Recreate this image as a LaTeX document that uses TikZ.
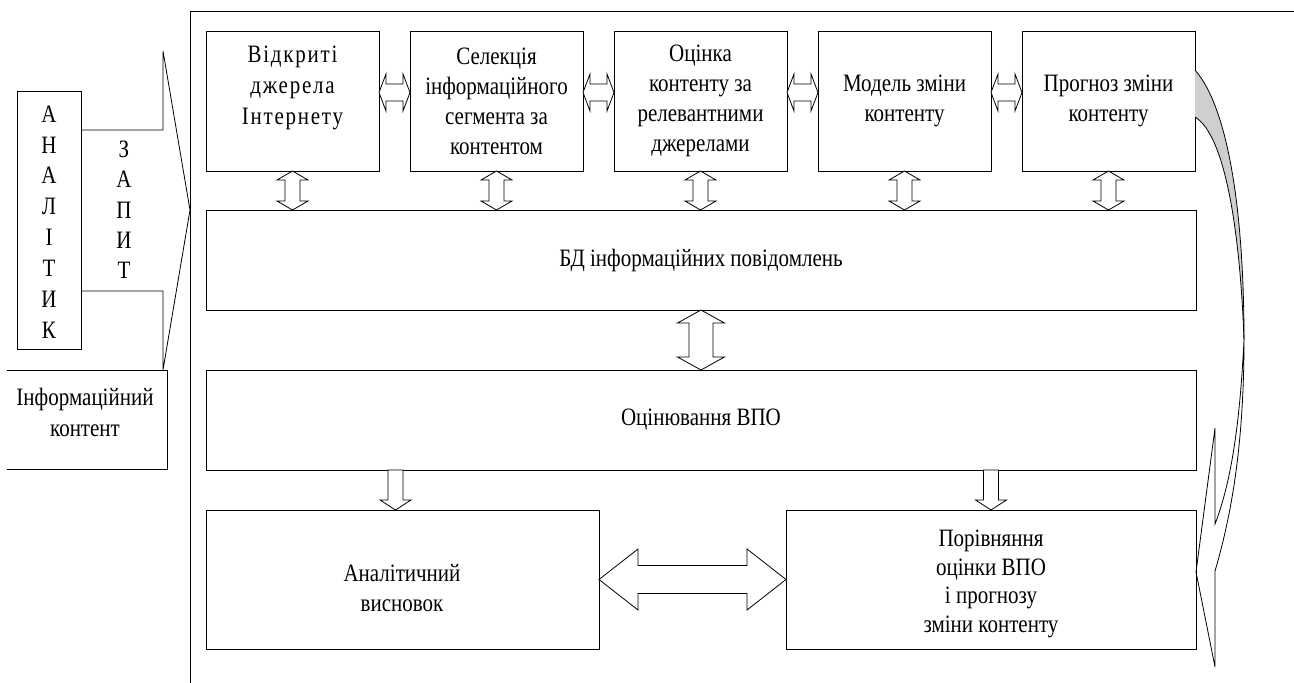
\documentclass[tikz,border=0pt]{standalone}
\usepackage{fontspec}
\setmainfont{Liberation Serif}[FakeStretch=0.84]
\usetikzlibrary{calc}
\newcommand{\hdbl}[5]{%
 \draw[blk] (#1) -- ($(#1)+(#5pt,#3pt)$) -- ($(#1)+(#5pt,#4pt)$) -- ($(#2)+(-#5pt,#4pt)$) -- ($(#2)+(-#5pt,#3pt)$) -- (#2)
   -- ($(#2)+(-#5pt,-#3pt)$) -- ($(#2)+(-#5pt,-#4pt)$) -- ($(#1)+(#5pt,-#4pt)$) -- ($(#1)+(#5pt,-#3pt)$) -- cycle;}
\newcommand{\vdbl}[5]{%
 \draw[blk] (#1) -- ($(#1)+(#3pt,-#5pt)$) -- ($(#1)+(#4pt,-#5pt)$) -- ($(#2)+(#4pt,#5pt)$) -- ($(#2)+(#3pt,#5pt)$) -- (#2)
   -- ($(#2)+(-#3pt,#5pt)$) -- ($(#2)+(-#4pt,#5pt)$) -- ($(#1)+(-#4pt,-#5pt)$) -- ($(#1)+(-#3pt,-#5pt)$) -- cycle;}
\newcommand{\vsgl}[5]{%
 \draw[blk] ($(#1)+(-#4pt,0)$) -- ($(#1)+(#4pt,0)$) -- ($(#2)+(#4pt,#5pt)$) -- ($(#2)+(#3pt,#5pt)$) -- (#2)
   -- ($(#2)+(-#3pt,#5pt)$) -- ($(#2)+(-#4pt,#5pt)$) -- cycle;}
\begin{document}
\begin{tikzpicture}[x=1pt,y=-1pt,
  ln/.style={line width=0.8pt},
  box/.style={draw, line width=0.8pt, inner sep=0pt, outer sep=0pt, align=center, anchor=north west},
  txt/.style={inner sep=0pt, align=center},
  tfont/.style={font=\fontsize{25}{30}\selectfont},
  blk/.style={draw, line width=0.8pt, fill=white, line join=miter}]
\useasboundingbox (0,0) rectangle (1294,683);

% outer frame
\draw[ln] (190,683) -- (190,11) -- (1294,11);

% analyst
\node[box, minimum width=64pt, minimum height=258pt] (an) at (17,91) {};
\node[txt, font=\fontsize{25}{30.9}\selectfont] (ant) at (49,222) {А\\Н\\А\\Л\\І\\Т\\И\\К};
\node[txt, font=\fontsize{25}{30.3}\selectfont] (zap) at (124,210) {З\\А\\П\\И\\Т};
\coordinate (q1) at (163,51);
\coordinate (q2) at (190,210);
\coordinate (q3) at (163,370);
\draw[ln] (an.east |- 0,130) -- (163,130) -- (q1) -- (q2) -- (q3) -- (163,291) -- (an.east |- 0,291);

% information content
\node[inner sep=0pt, outer sep=0pt, minimum width=160pt, minimum height=99pt, anchor=north west] (ik) at (7,370) {};
\draw[ln] (ik.north west) -- (ik.north east) -- (ik.south east) -- (ik.south west);
\node[txt, font=\fontsize{25}{31}\selectfont] (ikt) at (85,412) {Інформаційний\\контент};

% top row
\node[box, minimum width=173pt, minimum height=140pt] (b1) at (206,31) {};
\node[txt, font=\fontsize{25}{31}\selectfont\addfontfeature{LetterSpace=7}] (b1t) at (292.5,88) {Відкриті\\джерела\\Інтернету};
\node[box, tfont, minimum width=173pt, minimum height=140pt] (b2) at (410,31) {Селекція\\інформаційного\\сегмента за\\контентом};
\node[box, tfont, minimum width=173pt, minimum height=140pt] (b3) at (614,31) {Оцінка\\контенту за\\релевантними\\джерелами};
\node[box, tfont, minimum width=173pt, minimum height=140pt] (b4) at (818,31) {Модель зміни\\контенту};
\node[box, tfont, minimum width=173pt, minimum height=140pt] (b5) at (1022,31) {Прогноз зміни\\контенту};

% database and evaluation
\node[box, tfont, minimum width=990pt, minimum height=100pt] (bd) at (206,210) {БД інформаційних повідомлень};
\node[box, tfont, minimum width=990pt, minimum height=100pt] (ov) at (206,370) {Оцінювання ВПО};

% bottom row
\node[box, minimum width=393pt, minimum height=139pt] (la) at (206,510) {};
\node[txt, font=\fontsize{25}{30}\selectfont] (lat) at (402,588) {Аналітичний\\висновок};
\node[box, minimum width=410pt, minimum height=139pt] (ra) at (786,510) {};
\node[txt, font=\fontsize{25}{28.5}\selectfont] (rat) at (991,584) {Порівняння\\оцінки ВПО\\і прогнозу\\зміни контенту};

% horizontal arrows between top boxes
\coordinate (h1l) at ($(b1.east)+(0,8.5pt)$); \coordinate (h1r) at ($(b2.west)+(0,8.5pt)$);
\coordinate (h2l) at ($(b2.east)+(0,8.5pt)$); \coordinate (h2r) at ($(b3.west)+(0,8.5pt)$);
\coordinate (h3l) at ($(b3.east)+(0,8.5pt)$); \coordinate (h3r) at ($(b4.west)+(0,8.5pt)$);
\coordinate (h4l) at ($(b4.east)+(0,8.5pt)$); \coordinate (h4r) at ($(b5.west)+(0,8.5pt)$);
\hdbl{h1l}{h1r}{18.5}{8.5}{7}
\hdbl{h2l}{h2r}{18.5}{8.5}{7}
\hdbl{h3l}{h3r}{18.5}{8.5}{7}
\hdbl{h4l}{h4r}{18.5}{8.5}{7}

% vertical arrows top boxes <-> database
\foreach \b in {b1,b2,b3,b4,b5}{
  \coordinate (vt) at (\b.south);
  \coordinate (vb) at (\b.south |- bd.north);
  \vdbl{vt}{vb}{15.5}{7.5}{9}
}

% database <-> evaluation
\coordinate (dbt) at (bd.south);
\coordinate (dbb) at (ov.north);
\vdbl{dbt}{dbb}{23.5}{12}{13}

% evaluation -> bottom boxes
\coordinate (d1t) at ($(ov.south -| la.north)+(-7pt,0)$);
\coordinate (d1b) at ($(la.north)+(-7pt,0)$);
\vsgl{d1t}{d1b}{15.5}{7.5}{10}
\coordinate (d2t) at (ov.south -| ra.north);
\coordinate (d2b) at (ra.north);
\vsgl{d2t}{d2b}{15.5}{7.5}{10}

% bottom double arrow
\coordinate (bl) at (la.east);
\coordinate (br) at (ra.west);
\hdbl{bl}{br}{30.5}{14}{39}

% curved feedback arrow
\coordinate (gA) at ($(b5.north east)+(0,-39pt)$);
\coordinate (gB) at ($(b5.north east)+(0,-86pt)$);
\coordinate (gP) at (1244,340);
\coordinate (gO) at (1215,571);
\coordinate (gI) at (1215,524);
\coordinate (gU) at (1215,428);
\coordinate (gD) at (1215,667);
\coordinate (gT) at (ra.east |- 0,572);
\fill[gray!38] (gA) .. controls (1230,110) and (1244,220) .. (gP) .. controls (1240,230) and (1225,135) .. (gB) -- cycle;
\draw[ln] (gA) .. controls (1230,110) and (1244,220) .. (gP);
\draw[ln] (gB) .. controls (1225,135) and (1240,230) .. (gP);
\draw[ln, line join=miter] (gP) .. controls (1244,450) and (1230,520) .. (gO) -- (gD) -- (gT) -- (gU) -- (gI) .. controls (1232,480) and (1240,420) .. (gP);
\end{tikzpicture}
\end{document}
